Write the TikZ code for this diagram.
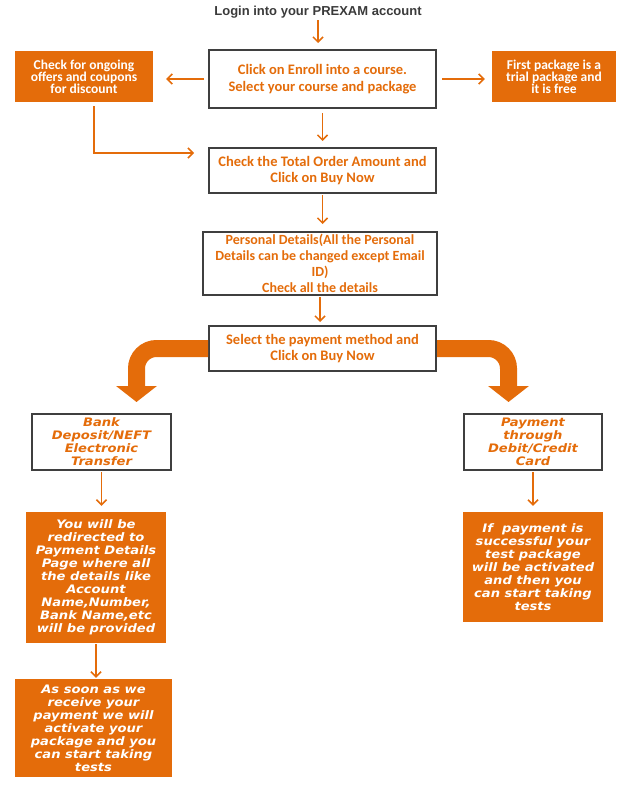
\documentclass[tikz,border=0pt]{standalone}
\usepackage{fontspec}
\usetikzlibrary{arrows.meta}
\newfontfamily\calfont{Carlito}
\newfontfamily\verfont[FakeStretch=1.12,UprightFont=*,BoldFont=* Bold,ItalicFont=* Oblique,BoldItalicFont=* Bold Oblique]{DejaVu Sans}
\newfontfamily\arialfont{Liberation Sans}
\definecolor{orng}{HTML}{E46C0A}
\definecolor{bordr}{HTML}{3F3F3F}
\definecolor{logintxt}{HTML}{3A3A3A}
\begin{document}
\begin{tikzpicture}[x=1pt,y=-1pt,
  wbox/.style={draw=bordr,line width=2pt,fill=white,align=center,text=orng,inner sep=0pt,
    font=\calfont\bfseries\fontsize{14.5}{16.5}\selectfont},
  obox/.style={fill=orng,align=center,text=white,inner sep=0pt,
    font=\calfont\bfseries\fontsize{13.5}{12}\selectfont},
  lwbox/.style={draw=bordr,line width=1.6pt,fill=white,align=center,text=orng,inner sep=0pt,
    font=\verfont\bfseries\itshape\fontsize{11.7}{13}\selectfont},
  lobox/.style={fill=orng,align=center,text=white,inner sep=0pt,
    font=\verfont\bfseries\itshape\fontsize{11.7}{13}\selectfont},
  arr/.style={draw=orng,line width=1.5pt,-{Straight Barb[length=5pt,width=10pt]}},
  bigarr/.style={draw=orng,line width=17pt,rounded corners=20pt,-{Triangle[width=40pt,length=16pt]}}
]
\useasboundingbox (0,0) rectangle (622,792);
\node[font=\arialfont\bfseries\fontsize{13}{15}\selectfont,text=logintxt,inner sep=1pt] (login) at (318,12) {Login into your PREXAM account};
\node[wbox,minimum width=227pt,minimum height=58pt] (enroll) at (322.5,79) {Click on Enroll into a course.\\Select your course and package};
\node[obox,minimum width=138pt,minimum height=51pt] (offers) at (84,76.5) {Check for ongoing\\offers and coupons\\for discount};
\node[obox,minimum width=124pt,minimum height=51pt] (free) at (554,76.5) {First package is a\\trial package and\\it is free};
\node[wbox,minimum width=227pt,minimum height=45pt] (total) at (322.5,170.5) {Check the Total Order Amount and\\Click on Buy Now};
\node[wbox,minimum width=234pt,minimum height=63pt,font=\calfont\bfseries\fontsize{14}{16}\selectfont] (personal) at (320,263.5) {Personal Details(All the Personal\\Details can be changed except Email\\ID)\\Check all the details};
\node[wbox,minimum width=227pt,minimum height=45pt] (select) at (322.5,348.5) {Select the payment method and\\Click on Buy Now};
\node[lwbox,minimum width=139pt,minimum height=56pt] (bank) at (101.5,442) {Bank\\Deposit/NEFT\\Electronic\\Transfer};
\node[lwbox,minimum width=138pt,minimum height=56pt] (paycard) at (533,442) {Payment\\through\\Debit/Credit\\Card};
\node[lobox,minimum width=140pt,minimum height=131pt] (redirect) at (96,577.5) {You will be\\redirected to\\Payment Details\\Page where all\\the details like\\Account\\Name,Number,\\Bank Name,etc\\will be provided};
\node[lobox,minimum width=157pt,minimum height=98pt] (soon) at (93.5,728) {As soon as we\\receive your\\payment we will\\activate your\\package and you\\can start taking\\tests};
\node[lobox,minimum width=140pt,minimum height=110pt] (success) at (533,567) {If\ \ payment is\\successful your\\test package\\will be activated\\and then you\\can start taking\\tests};
% connectors
\draw[arr,shorten <=1pt,shorten >=6pt] (login.south) -- (login.south |- enroll.north);
\draw[arr,shorten <=4pt,shorten >=13pt] (enroll.west) -- (enroll.west -| offers.east);
\draw[arr,shorten <=5pt,shorten >=7pt] (enroll.east) -- (enroll.east -| free.west);
\draw[arr,shorten <=4pt,shorten >=6pt] (enroll.south) -- (total.north);
\coordinate (tl) at (194,153);
\draw[arr] ([xshift=10pt,yshift=-4pt]offers.south) |- (tl);
\draw[arr,shorten <=1pt,shorten >=7pt] (total.south) -- (total.south |- personal.north);
\draw[arr,shorten <=1pt,shorten >=3pt] (personal.south) -- (personal.south |- select.north);
\coordinate (lt) at (136.5,402);
\coordinate (rt) at (508.5,402);
\draw[bigarr] (select.west) -| (lt);
\draw[bigarr] (select.east) -| (rt);
\draw[arr,shorten <=1pt,shorten >=6pt] (bank.south) -- (bank.south |- redirect.north);
\draw[arr,shorten <=1pt,shorten >=1pt] (redirect.south) -- (redirect.south |- soon.north);
\draw[arr,shorten <=1pt,shorten >=6pt] (paycard.south) -- (paycard.south |- success.north);
\end{tikzpicture}
\end{document}
